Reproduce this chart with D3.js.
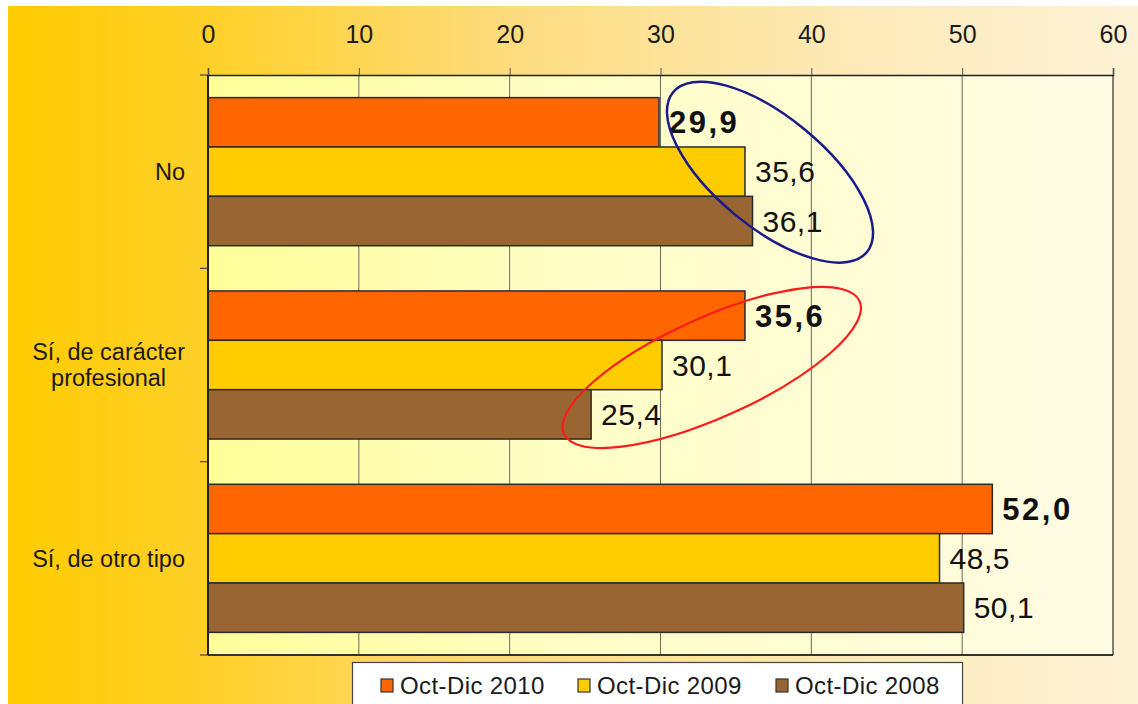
<!DOCTYPE html>
<html>
<head>
<meta charset="utf-8">
<script src="https://cdn.jsdelivr.net/npm/d3@7"></script>
<style>
  html, body { margin: 0; padding: 0; background: #ffffff; }
  svg { display: block; font-family: "Liberation Sans", Arial, sans-serif; }
</style>
</head>
<body>
<svg id="chart" width="1138" height="704"></svg>
<script>
// ---- data ----
const categories = ["No", "Sí, de carácter\nprofesional", "Sí, de otro tipo"];
const seriesNames = ["Oct-Dic 2010", "Oct-Dic 2009", "Oct-Dic 2008"];
const values2010 = [29.9, 35.6, 52.0];
const values2009 = [35.6, 30.1, 48.5];
const values2008 = [36.1, 25.4, 50.1];
const xTickValues = [0, 10, 20, 30, 40, 50, 60];

const seriesValues = [values2010, values2009, values2008];
const seriesColors = ["#ff6600", "#ffcc00", "#996633"];

const W = 1138, H = 704;
const plot = { left: 208, right: 1113, top: 75, bottom: 655 };

const svg = d3.select("#chart");
const defs = svg.append("defs");

// page background: warm yellow fading to cream
const bg = defs.append("linearGradient").attr("id", "bgGrad")
  .attr("x1", "0%").attr("x2", "100%").attr("y1", "0%").attr("y2", "0%");
bg.append("stop").attr("offset", "0%").attr("stop-color", "#ffcc00");
bg.append("stop").attr("offset", "18%").attr("stop-color", "#ffd02a");
bg.append("stop").attr("offset", "45%").attr("stop-color", "#fddc80");
bg.append("stop").attr("offset", "75%").attr("stop-color", "#fdeab8");
bg.append("stop").attr("offset", "100%").attr("stop-color", "#fef2d6");

// plot area fill
const pg = defs.append("linearGradient").attr("id", "plotGrad")
  .attr("x1", "0%").attr("x2", "100%").attr("y1", "0%").attr("y2", "0%");
pg.append("stop").attr("offset", "0%").attr("stop-color", "#ffff99");
pg.append("stop").attr("offset", "40%").attr("stop-color", "#fffec6");
pg.append("stop").attr("offset", "100%").attr("stop-color", "#fffbe4");

svg.append("rect").attr("x", 8).attr("y", 6).attr("width", W - 8).attr("height", H - 6)
  .attr("fill", "url(#bgGrad)");

// ---- scales ----
const x = d3.scaleLinear().domain([0, 60]).range([plot.left, plot.right]);
const y0 = d3.scaleBand().domain(d3.range(categories.length))
  .range([plot.top, plot.bottom]).paddingInner(0.234).paddingOuter(0.117);
const y1 = d3.scaleBand().domain(d3.range(seriesNames.length))
  .range([0, y0.bandwidth()]);

// plot background
svg.append("rect")
  .attr("x", plot.left).attr("y", plot.top)
  .attr("width", plot.right - plot.left).attr("height", plot.bottom - plot.top)
  .attr("fill", "url(#plotGrad)");

// vertical gridlines
svg.append("g").selectAll("line").data(xTickValues.slice(1, -1)).join("line")
  .attr("x1", d => x(d)).attr("x2", d => x(d))
  .attr("y1", plot.top).attr("y2", plot.bottom)
  .attr("stroke", "#6b6b5a").attr("stroke-width", 1);

// right border
svg.append("line").attr("x1", plot.right).attr("x2", plot.right)
  .attr("y1", plot.top).attr("y2", plot.bottom)
  .attr("stroke", "#55554a").attr("stroke-width", 1.5);
// bottom border
svg.append("line").attr("x1", plot.left).attr("x2", plot.right)
  .attr("y1", plot.bottom).attr("y2", plot.bottom)
  .attr("stroke", "#333").attr("stroke-width", 2);

// top axis
const xAxis = d3.axisTop(x).tickValues(xTickValues).tickSize(7).tickPadding(24)
  .tickFormat(d3.format("d"));
const gx = svg.append("g").attr("transform", `translate(0,${plot.top})`).call(xAxis);
gx.select(".domain").attr("stroke", "#222").attr("stroke-width", 1.5);
gx.selectAll(".tick line").attr("stroke", "#555").attr("stroke-width", 1);
gx.selectAll(".tick text").attr("font-size", 25).attr("fill", "#1a1a1a")
  .attr("font-family", "'Liberation Sans', Arial, sans-serif")
  .attr("dy", 0).attr("y", -32);

// left axis: ticks at category boundaries
const boundaries = [plot.top].concat(d3.range(categories.length).map(i =>
  i < categories.length - 1 ? (y0(i) + y0.bandwidth() + y0(i + 1)) / 2 : plot.bottom));
svg.append("g").selectAll("line").data(boundaries).join("line")
  .attr("x1", plot.left - 8).attr("x2", plot.left)
  .attr("y1", d => d).attr("y2", d => d)
  .attr("stroke", "#444").attr("stroke-width", 1.2);

// bars with value labels
const groups = svg.append("g").selectAll("g").data(categories).join("g")
  .attr("transform", (d, i) => `translate(0,${y0(i)})`);
const fmt = d3.formatLocale({ decimal: ",", thousands: ".", grouping: [3], currency: ["", "€"] }).format(".1f");

groups.each(function(c, ci) {
  const g = d3.select(this);
  seriesValues.forEach((vals, si) => {
    g.append("rect")
      .attr("x", x(0)).attr("y", y1(si))
      .attr("width", x(vals[ci]) - x(0)).attr("height", y1.bandwidth())
      .attr("fill", seriesColors[si])
      .attr("stroke", "#2a2a2a").attr("stroke-width", 1.5);
    const fs = si === 0 ? 31 : 30;
    g.append("text")
      .attr("x", x(vals[ci]) + 10)
      .attr("y", y1(si) + y1.bandwidth() / 2 + fs * 0.36)
      .attr("font-size", fs)
      .attr("font-weight", si === 0 ? "bold" : "normal")
      .attr("letter-spacing", si === 0 ? 2.5 : 0.5)
      .attr("fill", "#111")
      .text(fmt(vals[ci]));
  });
});

// left axis line drawn over bars
svg.append("line").attr("x1", plot.left).attr("x2", plot.left)
  .attr("y1", plot.top).attr("y2", plot.bottom)
  .attr("stroke", "#222").attr("stroke-width", 2);

// category labels: block right-aligned, lines centred within the block
const labelRight = 185, catFs = 23.5, lineGap = 26;
categories.forEach((c, ci) => {
  const lines = c.split("\n");
  const cy = y0(ci) + y0.bandwidth() / 2;
  const t = svg.append("text").attr("font-size", catFs).attr("fill", "#1a1a1a")
    .attr("text-anchor", "middle");
  const spans = lines.map((ln, li) => t.append("tspan")
    .attr("y", cy + catFs * 0.36 + (li - (lines.length - 1) / 2) * lineGap)
    .text(ln));
  const maxW = d3.max(spans, s => s.node().getComputedTextLength());
  spans.forEach(s => s.attr("x", labelRight - maxW / 2));
});

// highlight ellipses around the label groups
const highlights = [
  { cat: 0, value: 37.26, dy: 0.5, rx: 125.6, ry: 55, angle: 39.5, color: "#1a1a8c", width: 2.5 },
  { cat: 1, value: 33.4, dy: 2.5, rx: 162, ry: 50, angle: -24.2, color: "#ff1a1a", width: 2.2 }
];
svg.append("g").selectAll("ellipse").data(highlights).join("ellipse")
  .attr("cx", 0).attr("cy", 0)
  .attr("rx", d => d.rx).attr("ry", d => d.ry)
  .attr("transform", d => `translate(${x(d.value)},${y0(d.cat) + y0.bandwidth() / 2 + d.dy}) rotate(${d.angle})`)
  .attr("fill", "none").attr("stroke", d => d.color).attr("stroke-width", d => d.width);

// legend
const legend = svg.append("g");
legend.append("rect").attr("x", 352.5).attr("y", 662.5).attr("width", 610).attr("height", 60)
  .attr("fill", "#ffffff").attr("stroke", "#444").attr("stroke-width", 1.2);
const itemX = [381, 578, 776];
seriesNames.forEach((name, i) => {
  legend.append("rect").attr("x", itemX[i]).attr("y", 679)
    .attr("width", 12).attr("height", 13)
    .attr("fill", seriesColors[i]).attr("stroke", "#333").attr("stroke-width", 1.2);
  legend.append("text").attr("x", itemX[i] + 19).attr("y", 693.5)
    .attr("font-size", 24).attr("letter-spacing", 0.4).attr("fill", "#1a1a1a")
    .text(name);
});
</script>
</body>
</html>
